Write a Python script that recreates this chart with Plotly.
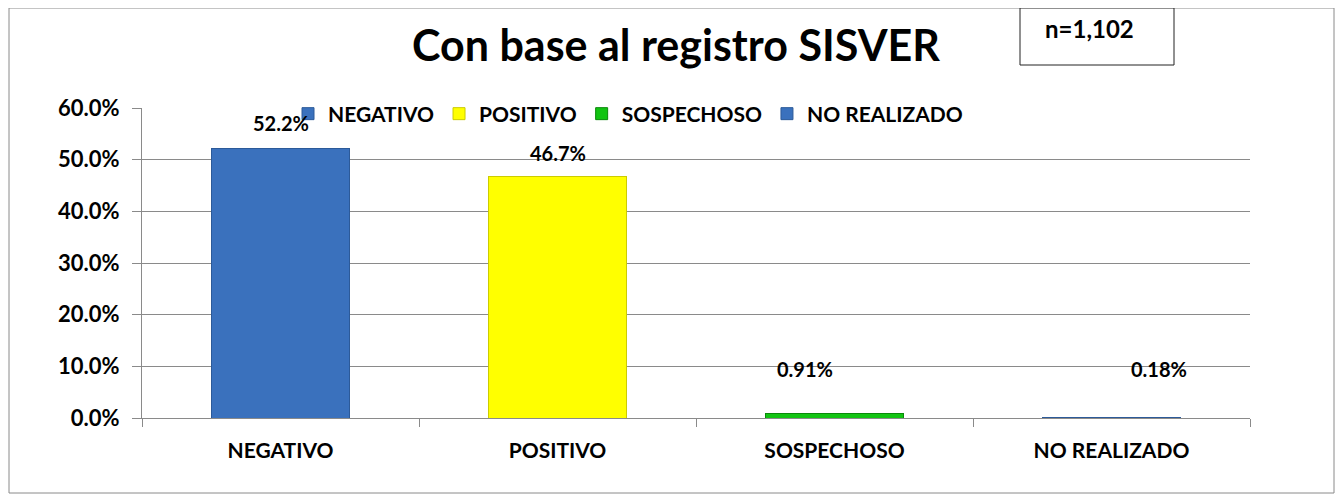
import plotly.graph_objects as go

# datos
categorias = ["NEGATIVO", "POSITIVO", "SOSPECHOSO", "NO REALIZADO"]
porcentajes = [0.522, 0.467, 0.0091, 0.0018]
etiquetas = ["52.2%", "46.7%", "0.91%", "0.18%"]
titulo = "Con base al registro SISVER"
total_n = "n=1,102"

# estilo
colores = ["#3a71bd", "#ffff00", "#12c412", "#3a71bd"]
bordes = ["#2c5a99", "#cccc00", "#0a8a0a", "#2c5a99"]
desplaz_x = [0, 0, -30, 47]
desplaz_y = [25, 24, 44, 48]
FUENTE = "Lato, 'Open Sans', sans-serif"

# el body del html deja 8px de margen: todo se corre 8px
OFF = 8
W, H = 1344 - OFF, 495 - OFF
ML, MT = 142 - OFF, 108 - OFF
MR, MB = W - (1250 - OFF), H - (418 - OFF)
PW, PH = W - ML - MR, H - MT - MB


def px_x(x):
    # x en pixeles de la imagen de referencia -> fraccion de paper
    return (x - OFF - ML) / PW


def px_y(y):
    return (H - MB - (y - OFF)) / PH


fig = go.Figure()
for cat, val, col, bor in zip(categorias, porcentajes, colores, bordes):
    fig.add_trace(go.Bar(
        x=[cat], y=[val], name=f"<b>{cat}</b>",
        marker=dict(color=col, line=dict(color=bor, width=1)),
        hoverinfo="x+y",
    ))

for cat, val, txt, dx, dy in zip(categorias, porcentajes, etiquetas, desplaz_x, desplaz_y):
    fig.add_annotation(
        x=cat, y=val, text=f"<b>{txt}</b>", showarrow=False,
        xshift=dx, yshift=dy, font=dict(size=20, color="black", family=FUENTE),
    )

# recuadro n
fig.add_shape(
    type="rect", xref="paper", yref="paper",
    x0=px_x(1020), x1=px_x(1174), y0=px_y(65), y1=px_y(8),
    line=dict(color="#222222", width=1), fillcolor="white",
)
fig.add_annotation(
    xref="paper", yref="paper", x=px_x(1089), y=px_y(29),
    xanchor="center", yanchor="middle",
    text=f"<b>{total_n}</b>", showarrow=False,
    font=dict(size=24, color="black", family=FUENTE),
)

# borde exterior
fig.add_shape(
    type="rect", xref="paper", yref="paper",
    x0=px_x(9), x1=px_x(1334), y0=px_y(493), y1=px_y(8),
    line=dict(color="#8a8a8a", width=1), layer="below",
)

fig.update_layout(
    width=W, height=H,
    margin=dict(l=ML, r=MR, t=MT, b=MB),
    paper_bgcolor="white", plot_bgcolor="white",
    barmode="stack", bargap=0.5,
    font=dict(family=FUENTE, color="black"),
    title=dict(
        text=f"<b>{titulo}</b>", x=0.5, xanchor="center",
        y=1 - (46 - OFF) / H, yanchor="middle",
        font=dict(size=43, color="black", family=FUENTE),
    ),
    legend=dict(
        orientation="h", traceorder="normal",
        x=px_x(288), xanchor="left", y=px_y(114), yanchor="middle",
        bgcolor="rgba(0,0,0,0)", font=dict(size=21, family=FUENTE),
        itemwidth=30,
    ),
    xaxis=dict(
        showline=True, linecolor="#8a8a8a", linewidth=1,
        ticks="outside", ticklen=8, tickcolor="#8a8a8a", tickson="boundaries",
        tickfont=dict(size=21, family=FUENTE), tickprefix="<b>", ticksuffix="</b>",
        ticklabelstandoff=14, showgrid=False,
    ),
    yaxis=dict(
        range=[0, 0.6], dtick=0.1, tickformat=".1%",
        showline=True, linecolor="#8a8a8a", linewidth=1,
        ticks="outside", ticklen=9, tickcolor="#8a8a8a",
        showgrid=True, gridcolor="#8a8a8a", gridwidth=1,
        tickfont=dict(size=22, family=FUENTE), tickprefix="<b>", ticksuffix="</b>",
        ticklabelstandoff=8, zeroline=False,
    ),
)

fig.write_html("out.html")
